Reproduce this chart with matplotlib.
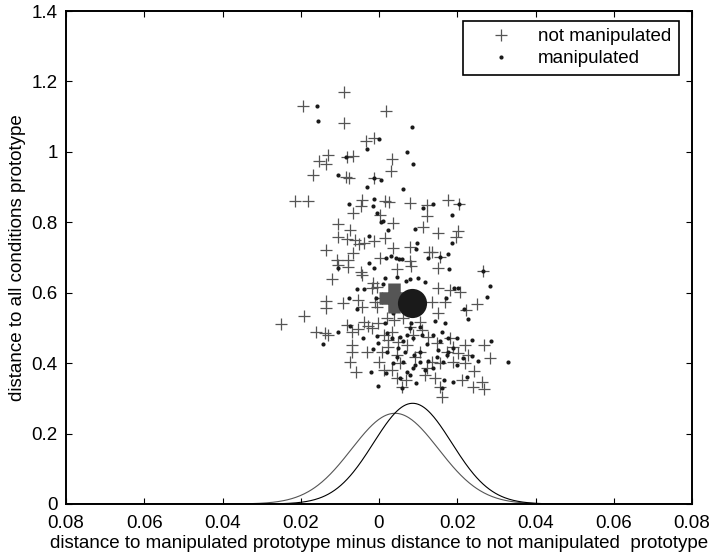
import numpy as np
import matplotlib
matplotlib.use('Agg')
from matplotlib import pyplot as plt

plt.rcParams['font.family'] = ['Liberation Sans', 'DejaVu Sans']
plt.rcParams['font.size'] = 13.5

# not manipulated (gray plus markers)
not_manip_x = [
  -0.0089, -0.0193, 0.0018, -0.0089, -0.0033, -0.0013, -0.0131, -0.0153, -0.0135, -0.0083,
  -0.0067, 0.0032, 0.0031, -0.0168, -0.0084, -0.0076, -0.0014, -0.0214, -0.0181, -0.0043,
  -0.0047, 0.0016, 0.0025, 0.0080, 0.0122, 0.0176, 0.0204, -0.0067, 0.0123, 0.0003,
  -0.0106, 0.0035, -0.0073, 0.0113, 0.0150, 0.0203, 0.0197, -0.0104, -0.0083, -0.0061,
  -0.0051, -0.0038, -0.0012, 0.0016, -0.0135, -0.0066, 0.0037, 0.0079, 0.0127, 0.0135,
  0.0156, -0.0107, -0.0078, 0.0003, 0.0080,
  -0.0106, -0.0078, -0.0047, -0.0044, 0.0045, 0.0082, 0.0152, 0.0267, -0.0121, -0.0015,
  -0.0004, -0.0135, -0.0135, -0.0091, -0.0053, -0.0044, -0.0010, -0.0006, 0.0007, -0.0191,
  -0.0251, -0.0161, -0.0138, -0.0130, -0.0083, -0.0070, -0.0053, -0.0038, -0.0027, -0.0003,
  0.0020, 0.0038, 0.0061, 0.0135, 0.0152, 0.0150, 0.0181, 0.0207, 0.0169, 0.0222,
  0.0251, -0.0070, -0.0068, -0.0031, -0.0074, -0.0060, 0.0001, 0.0013, 0.0007, 0.0013,
  0.0024, 0.0049, 0.0071, 0.0088, 0.0109, 0.0126, 0.0045, 0.0054, 0.0045, 0.0068,
  0.0058, 0.0092, 0.0105, 0.0122, 0.0135, 0.0156, 0.0143, 0.0156, 0.0160, 0.0181,
  0.0190, 0.0203, 0.0220, 0.0228, 0.0220, 0.0244, 0.0211, 0.0241, 0.0264, 0.0269,
  0.0269, 0.0284, -0.0019, 0.0032, 0.0079, 0.0105, 0.0147, 0.0173, 0.0190, -0.0019,
  0.0024, 0.0032, 0.0118]
not_manip_y = [
  1.171, 1.130, 1.117, 1.081, 1.032, 1.039, 0.991, 0.975, 0.966, 0.986,
  0.989, 0.980, 0.946, 0.933, 0.928, 0.927, 0.925, 0.860, 0.861, 0.863,
  0.847, 0.860, 0.857, 0.854, 0.849, 0.863, 0.851, 0.827, 0.818, 0.821,
  0.794, 0.797, 0.778, 0.786, 0.769, 0.776, 0.759, 0.759, 0.752, 0.750,
  0.738, 0.740, 0.748, 0.755, 0.721, 0.712, 0.726, 0.729, 0.715, 0.717,
  0.702, 0.693, 0.693, 0.698, 0.690,
  0.679, 0.674, 0.660, 0.650, 0.667, 0.677, 0.669, 0.662, 0.639, 0.627,
  0.617, 0.577, 0.556, 0.572, 0.579, 0.560, 0.575, 0.560, 0.586, 0.534,
  0.511, 0.488, 0.485, 0.480, 0.508, 0.488, 0.497, 0.518, 0.506, 0.515,
  0.527, 0.523, 0.529, 0.575, 0.542, 0.613, 0.608, 0.601, 0.575, 0.551,
  0.567, 0.452, 0.433, 0.433, 0.404, 0.376, 0.404, 0.381, 0.433, 0.480,
  0.466, 0.461, 0.452, 0.480, 0.494, 0.475, 0.423, 0.400, 0.357, 0.352,
  0.333, 0.418, 0.433, 0.385, 0.404, 0.400, 0.357, 0.333, 0.305, 0.471,
  0.447, 0.428, 0.452, 0.423, 0.400, 0.378, 0.352, 0.333, 0.347, 0.326,
  0.452, 0.414, 0.613, 0.489, 0.504, 0.518, 0.456, 0.433, 0.404, 0.499,
  0.447, 0.381, 0.366]

# manipulated (black dots)
manip_x = [
  -0.0158, -0.0155, 0.0085, -0.0001, -0.0031, 0.0071, -0.0084, 0.0088, -0.0106, -0.0014,
  0.0005, -0.0031, 0.0061, -0.0077, -0.0014, -0.0015, 0.0112, 0.0137, 0.0204, -0.0006,
  0.0186, 0.0011, 0.0006, 0.0023, 0.0092, -0.0025, 0.0097, 0.0186, 0.0094, 0.0176,
  0.0124, 0.0157, 0.0017, 0.0030, 0.0043, 0.0050, 0.0058, -0.0026,
  -0.0012, -0.0106, 0.0179, 0.0267, 0.0045, 0.0015, 0.0069, 0.0079, 0.0100, 0.0118,
  0.0284, 0.0277, 0.0192, 0.0203, -0.0055, -0.0038, 0.0011, -0.0076, -0.0008, 0.0171,
  -0.0055, 0.0218, 0.0228, 0.0143, 0.0169, 0.0037, 0.0081, 0.0079, 0.0105, 0.0015,
  -0.0074, -0.0104, -0.0143, -0.0040, -0.0004, -0.0002, 0.0020, 0.0032, 0.0054, 0.0062,
  0.0071, 0.0088, 0.0109, 0.0122, 0.0139, 0.0156, 0.0160, 0.0177, 0.0200, 0.0237,
  0.0286, 0.0190, 0.0177, 0.0152, 0.0105, 0.0090, 0.0066, 0.0045, 0.0020, -0.0015,
  0.0037, 0.0062, 0.0092, 0.0105, 0.0118, 0.0139, 0.0164, 0.0173, 0.0199, 0.0214,
  0.0238, 0.0254, 0.0224, 0.0190, 0.0160, 0.0166, 0.0079, 0.0071, 0.0086, 0.0094,
  0.0058, 0.0054, 0.0017, -0.0020, -0.0003, 0.0126, 0.0147, 0.0049, 0.0330]
manip_y = [
  1.131, 1.088, 1.072, 1.037, 1.009, 1.001, 0.985, 0.965, 0.934, 0.925,
  0.920, 0.901, 0.894, 0.852, 0.867, 0.846, 0.840, 0.851, 0.851, 0.827,
  0.821, 0.805, 0.802, 0.778, 0.780, 0.762, 0.740, 0.740, 0.725, 0.710,
  0.699, 0.702, 0.700, 0.703, 0.700, 0.697, 0.695, 0.684,
  0.671, 0.671, 0.667, 0.662, 0.646, 0.641, 0.633, 0.638, 0.641, 0.631,
  0.620, 0.589, 0.614, 0.614, 0.610, 0.610, 0.624, 0.586, 0.586, 0.584,
  0.554, 0.554, 0.525, 0.521, 0.513, 0.542, 0.513, 0.499, 0.504, 0.513,
  0.506, 0.488, 0.454, 0.471, 0.478, 0.456, 0.485, 0.472, 0.475, 0.463,
  0.480, 0.472, 0.480, 0.454, 0.480, 0.463, 0.488, 0.471, 0.472, 0.466,
  0.463, 0.444, 0.433, 0.438, 0.431, 0.423, 0.433, 0.418, 0.431, 0.440,
  0.400, 0.404, 0.395, 0.404, 0.381, 0.385, 0.404, 0.423, 0.395, 0.414,
  0.420, 0.406, 0.361, 0.347, 0.328, 0.352, 0.366, 0.376, 0.385, 0.343,
  0.328, 0.357, 0.371, 0.374, 0.335, 0.406, 0.418, 0.442, 0.403]

# group means
mean_not_manip = (0.0038, 0.586)
mean_manip = (0.0085, 0.572)

# normal curves: mean, sd, peak height
curve_not_manip = (0.0041, 0.0111, 0.2576)
curve_manip = (0.0086, 0.0100, 0.286)

x_ticks = [-0.08, -0.06, -0.04, -0.02, 0, 0.02, 0.04, 0.06, 0.08]
x_tick_labels = ['0.08', '0.06', '0.04', '0.02', '0', '0.02', '0.04', '0.06', '0.08']
y_ticks = [0, 0.2, 0.4, 0.6, 0.8, 1.0, 1.2, 1.4]
y_tick_labels = ['0', '0.2', '0.4', '0.6', '0.8', '1', '1.2', '1.4']

gray = '#555555'
dark = '#1a1a1a'

fig = plt.figure(figsize=(7.15, 5.56), dpi=100)
ax = fig.add_axes([66 / 715, 52 / 556, 626 / 715, 493 / 556])

ax.plot(not_manip_x, not_manip_y, '+', color=gray, markersize=9, mew=0.9,
        label='not manipulated')
ax.plot(manip_x, manip_y, '.', color=dark, markersize=6, mew=0,
        label='manipulated')

ax.plot(*mean_not_manip, '+', color=gray, markersize=22, mew=9)
ax.plot(*mean_manip, 'o', color=dark, markersize=21, mew=0)

xs = np.linspace(-0.08, 0.08, 600)
for (mu, sd, peak), col in [(curve_not_manip, gray), (curve_manip, 'black')]:
  ax.plot(xs, peak * np.exp(-0.5 * ((xs - mu) / sd) ** 2), color=col, lw=0.8)

ax.set_xlim(-0.08, 0.08)
ax.set_ylim(0, 1.4)
ax.set_xticks(x_ticks)
ax.set_xticklabels(x_tick_labels)
ax.set_yticks(y_ticks)
ax.set_yticklabels(y_tick_labels)
ax.tick_params(direction='in', length=4, width=0.8, top=True, right=True)
ax.tick_params(axis='x', pad=8)
ax.tick_params(axis='y', pad=6)
for sp in ax.spines.values():
  sp.set_linewidth(1.4)

ax.set_xlabel('distance to manipulated prototype minus distance to not manipulated  prototype',
              labelpad=2)
ax.set_ylabel('distance to all conditions prototype', labelpad=4)

leg = ax.legend(loc='upper right', bbox_to_anchor=(0.979, 0.980), borderaxespad=0,
                fancybox=False, edgecolor='black', framealpha=1, borderpad=0.4,
                handlelength=3.2, handletextpad=0.4, labelspacing=0.25)
leg.get_frame().set_linewidth(1.2)

fig.savefig('out.png', dpi=100)
